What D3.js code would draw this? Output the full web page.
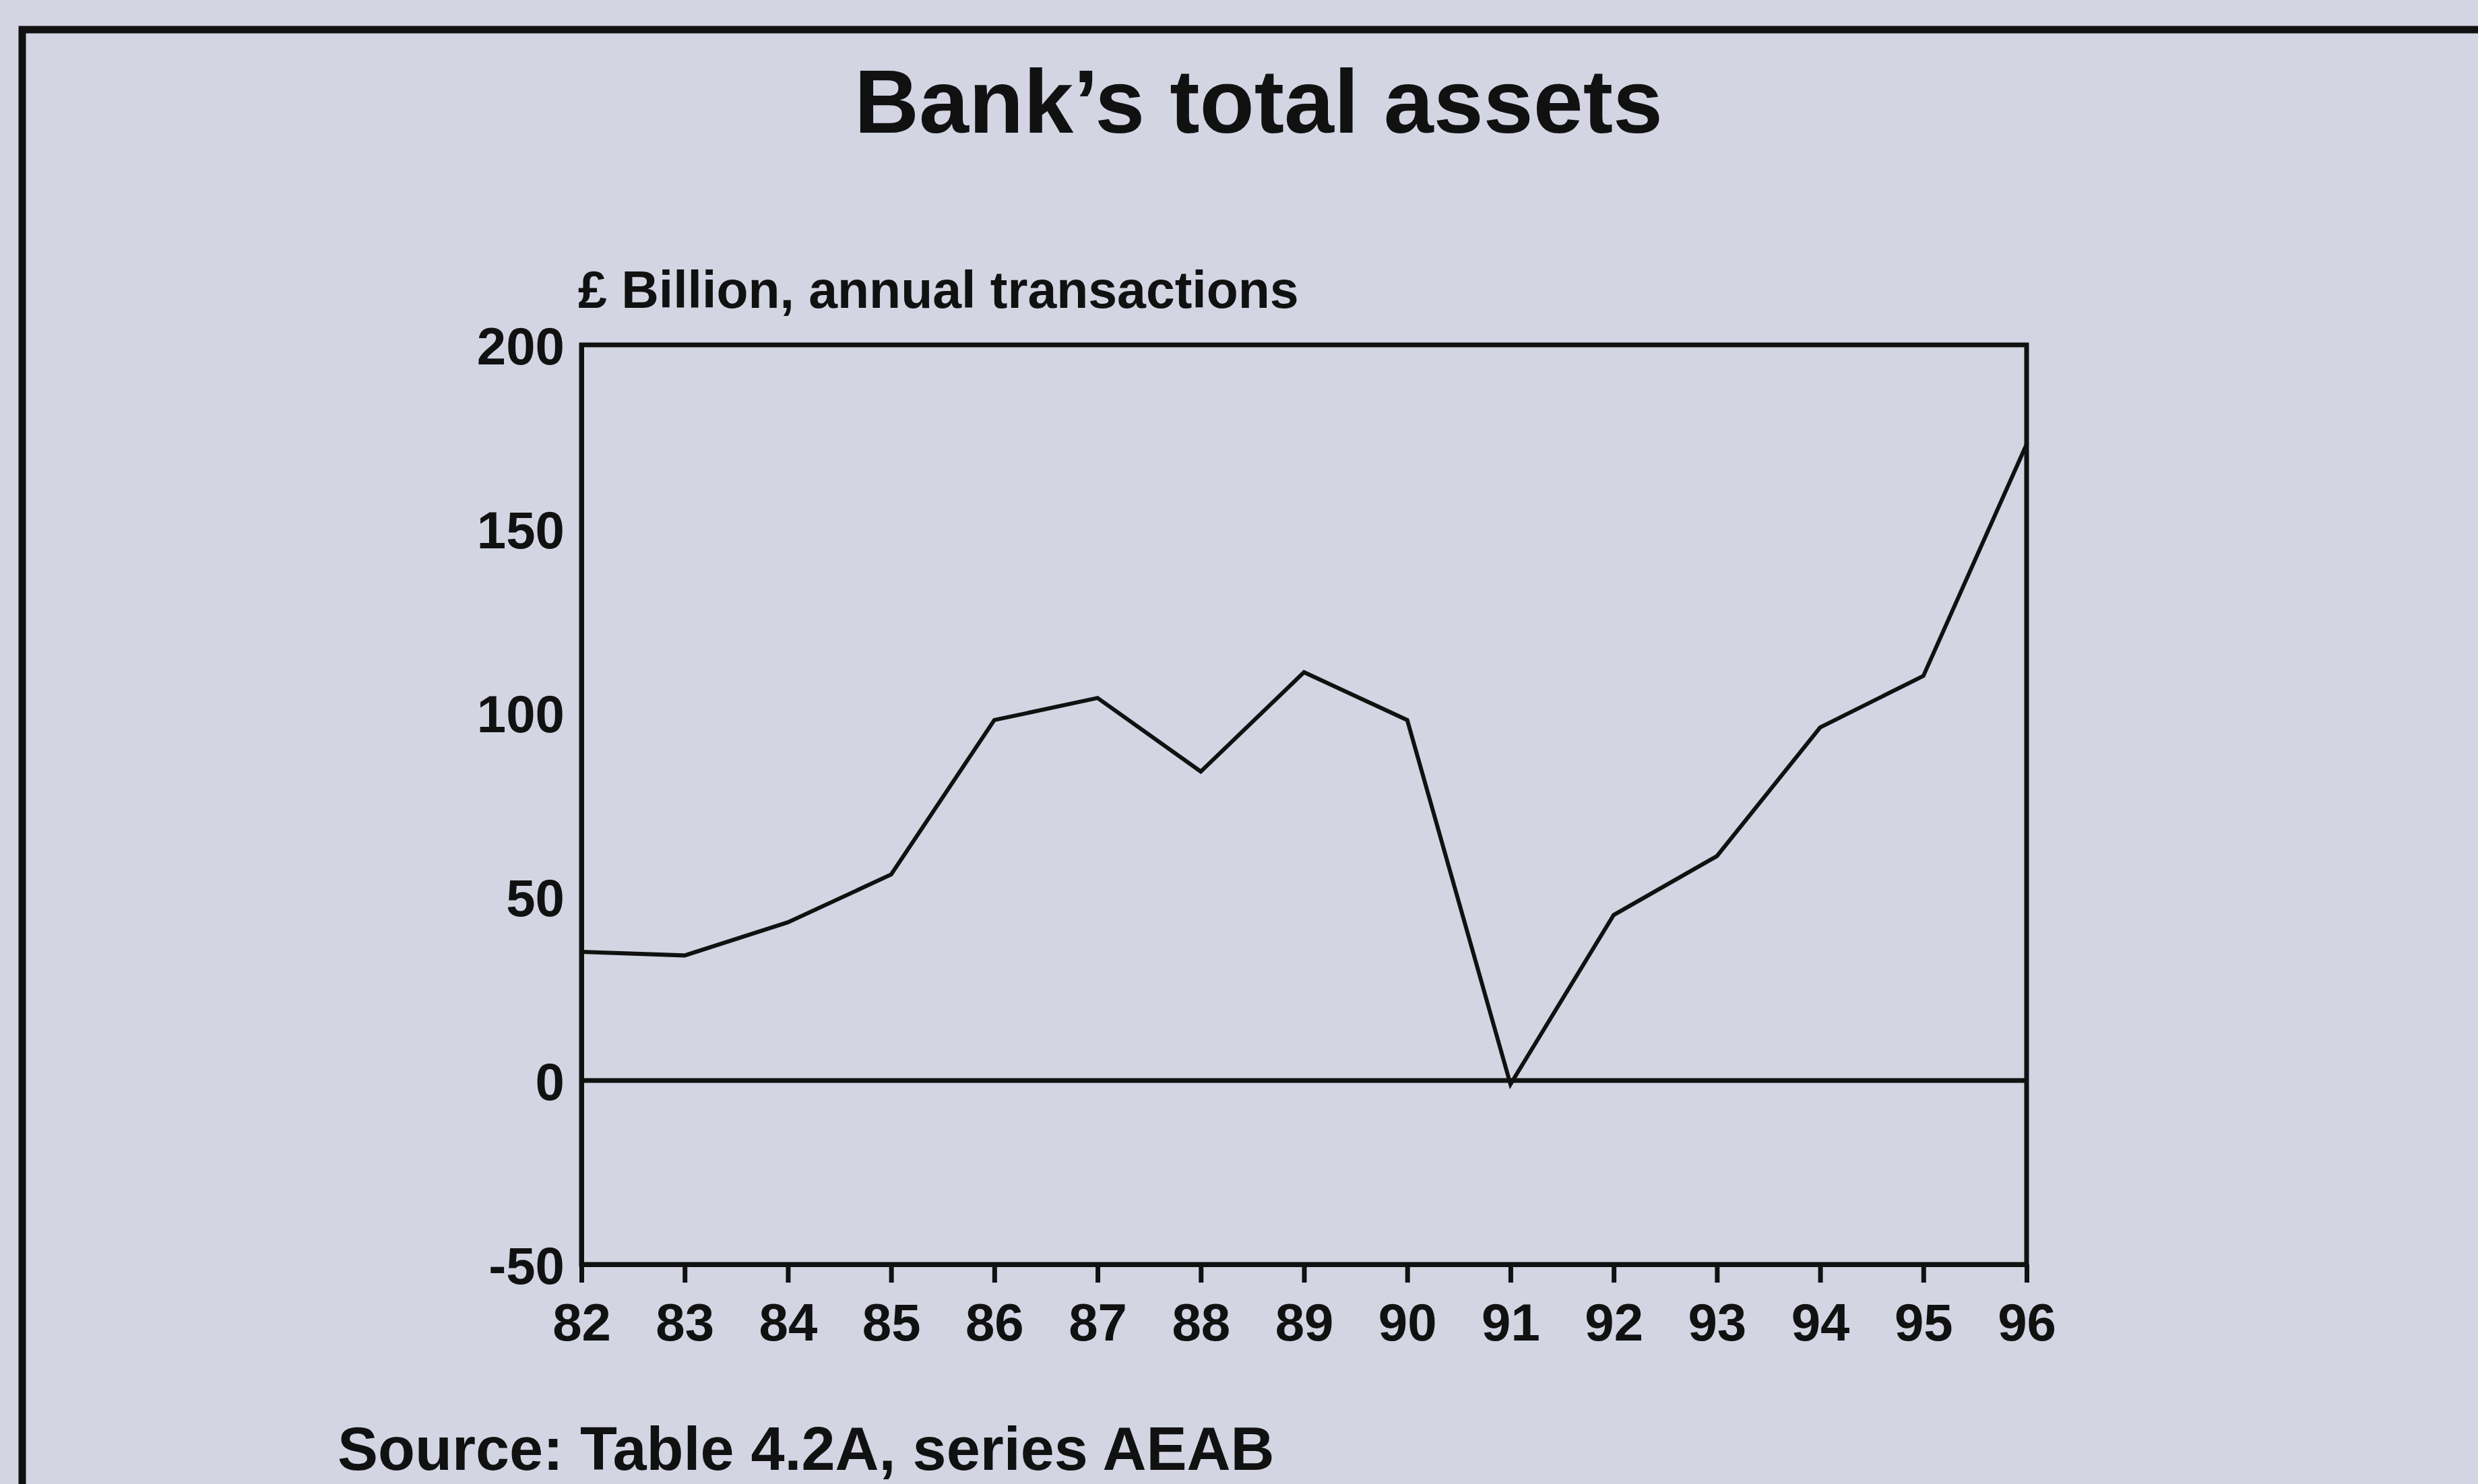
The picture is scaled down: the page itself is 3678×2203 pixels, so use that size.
<!DOCTYPE html>
<html>
<head>
<meta charset="utf-8">
<script src="https://cdn.jsdelivr.net/npm/d3@7"></script>
<style>
  html, body { margin: 0; padding: 0; background: #d3d5e3; }
  svg { display: block; }
  text { font-family: "Liberation Sans", Arial, sans-serif; font-weight: bold; fill: #111; }
</style>
</head>
<body>
<div id="container"></div>
<script>
const w = 3678;
const h = 2203;

// Data
const years = [82, 83, 84, 85, 86, 87, 88, 89, 90, 91, 92, 93, 94, 95, 96];
const assets = [35, 34, 43, 56, 98, 104, 84, 111, 98, -1, 45, 61, 96, 110, 173];
const yTicks = [-50, 0, 50, 100, 150, 200];

const titleText = 'Bank\u2019s total assets';
const unitText = '\u00a3 Billion, annual transactions';
const sourceText = 'Source: Table 4.2A, series AEAB';

const plot = { left: 863, right: 3008, top: 512, bottom: 1877 };

const svg = d3.select('#container')
              .append('svg')
              .attr('width', w)
              .attr('height', h);

svg.append('rect')
   .attr('width', w)
   .attr('height', h)
   .attr('fill', '#d3d5e3');

// Outer page border (top and left only visible)
svg.append('path')
   .attr('d', `M33,${h} L33,44 L${w},44`)
   .attr('fill', 'none')
   .attr('stroke', '#111')
   .attr('stroke-width', 11);

// Scales
const xScale = d3.scaleLinear()
                 .domain([d3.min(years), d3.max(years)])
                 .range([plot.left, plot.right]);

const yScale = d3.scaleLinear()
                 .domain([d3.min(yTicks), d3.max(yTicks)])
                 .range([plot.bottom, plot.top]);

// Title
svg.append('text')
   .attr('x', 1868)
   .attr('y', 197)
   .attr('text-anchor', 'middle')
   .style('font-size', '133px')
   .text(titleText);

// Unit label
svg.append('text')
   .attr('x', 858)
   .attr('y', 457)
   .style('font-size', '77px')
   .text(unitText);

// Frame
svg.append('rect')
   .attr('x', xScale(d3.min(years)))
   .attr('y', yScale(d3.max(yTicks)))
   .attr('width', xScale(d3.max(years)) - xScale(d3.min(years)))
   .attr('height', yScale(d3.min(yTicks)) - yScale(d3.max(yTicks)))
   .attr('fill', 'none')
   .attr('stroke', '#111')
   .attr('stroke-width', 7);

// Zero line
svg.append('line')
   .attr('x1', xScale(d3.min(years)))
   .attr('x2', xScale(d3.max(years)))
   .attr('y1', yScale(0))
   .attr('y2', yScale(0))
   .attr('stroke', '#111')
   .attr('stroke-width', 7);

// Axes
const xAxis = d3.axisBottom(xScale)
                .tickValues(years)
                .tickFormat(d => String(d))
                .tickSize(27)
                .tickSizeOuter(0)
                .tickPadding(31);

const yAxis = d3.axisLeft(yScale)
                .tickValues(yTicks)
                .tickFormat(d => String(d))
                .tickSize(0)
                .tickPadding(25);

const gx = svg.append('g')
   .attr('transform', `translate(0, ${plot.bottom})`)
   .call(xAxis);

const gy = svg.append('g')
   .attr('transform', `translate(${plot.left}, 0)`)
   .call(yAxis);

[gx, gy].forEach(g => {
  g.select('.domain').attr('stroke', '#111').attr('stroke-width', 7);
  g.selectAll('.tick line').attr('stroke', '#111').attr('stroke-width', 7);
  g.selectAll('.tick text')
   .attr('fill', '#111')
   .style('font-family', '"Liberation Sans", Arial, sans-serif')
   .style('font-weight', 'bold')
   .style('font-size', '78px');
});
gy.selectAll('.tick text').attr('dy', '0.36em');

// Data line
const line = d3.line()
               .x((d, i) => xScale(years[i]))
               .y(d => yScale(d));

svg.append('path')
   .datum(assets)
   .attr('d', line)
   .attr('fill', 'none')
   .attr('stroke', '#111')
   .attr('stroke-width', 6)
   .attr('stroke-linejoin', 'miter');

// Source note
svg.append('text')
   .attr('x', 501)
   .attr('y', 2182)
   .style('font-size', '90px')
   .text(sourceText);
</script>
</body>
</html>
